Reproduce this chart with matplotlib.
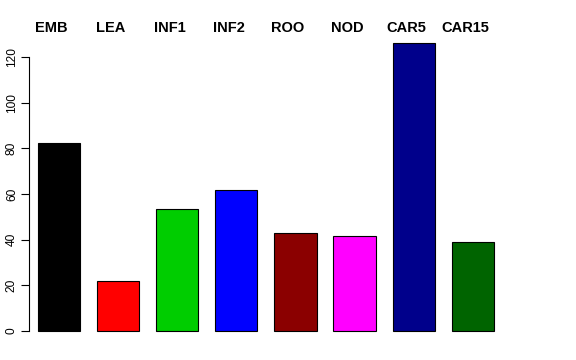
import matplotlib
matplotlib.use("Agg")
import matplotlib.pyplot as plt
import numpy as np

plt.rcParams['font.family'] = ['Liberation Sans', 'DejaVu Sans']

# data
labels = ['EMB', 'LEA', 'INF1', 'INF2', 'ROO', 'NOD', 'CAR5', 'CAR15']
values = [82.3, 21.9, 53.4, 61.8, 42.9, 41.6, 126.1, 39.0]
colors = ['#000000', '#FF0000', '#00CD00', '#0000FF', '#8B0000', '#FF00FF', '#00008B', '#006400']
yticks = [0, 20, 40, 60, 80, 100, 120]

W, H = 576, 360
fig = plt.figure(figsize=(5.76, 3.6), dpi=100)
# axes box in pixels
left, right, top, bottom = 29, 512, 31.6, 342.5
ax = fig.add_axes([left / W, 1 - bottom / H, (right - left) / W, (bottom - top) / H])

x = 0.9 + 1.4 * np.arange(len(values))
ax.bar(x, values, width=1.0, color=colors, edgecolor='black', linewidth=0.8)

ax.set_xlim(0.187, 11.63)
ax.set_ylim(-5.04, 131.1)

for s in ['top', 'right', 'bottom']:
    ax.spines[s].set_visible(False)
ax.spines['left'].set_bounds(0, 120)
ax.spines['left'].set_linewidth(0.8)
ax.set_xticks([])
ax.set_yticks(yticks)
ax.set_yticklabels([str(t) for t in yticks], rotation=90, va='center', fontsize=8.6)
ax.tick_params(axis='y', length=6, width=0.8, pad=2)

# labels sit a little left of the bar centres
for xi, lab in zip(x, labels):
    ax.text(xi - 0.18, 1.01, lab, transform=ax.get_xaxis_transform(), ha='center', va='center',
            fontsize=10.5, fontweight='bold')

fig.savefig('out.png', dpi=100)
